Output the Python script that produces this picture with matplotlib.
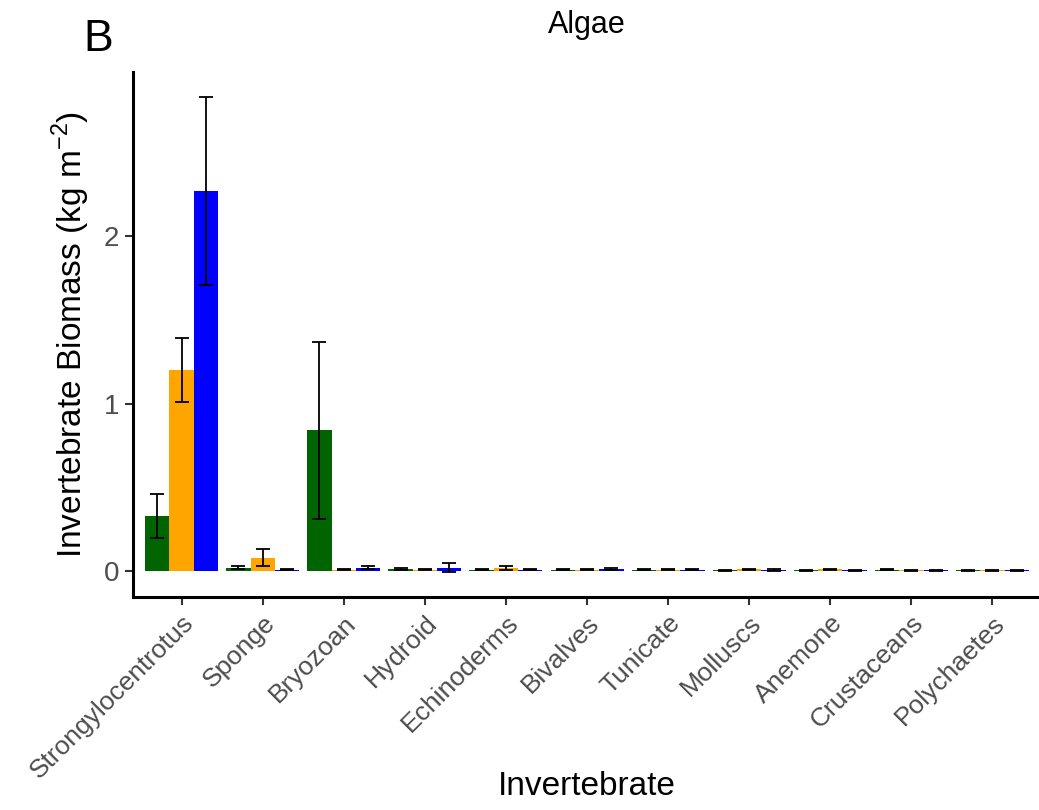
import matplotlib.pyplot as plt
import matplotlib.transforms as mtransforms
import numpy as np

plt.rcParams['font.family'] = ['Liberation Sans', 'DejaVu Sans']
plt.rcParams['mathtext.fontset'] = 'custom'
plt.rcParams['mathtext.rm'] = 'Liberation Sans'

invertebrates = ['Strongylocentrotus', 'Sponge', 'Bryozoan', 'Hydroid', 'Echinoderms',
                 'Bivalves', 'Tunicate', 'Molluscs', 'Anemone', 'Crustaceans', 'Polychaetes']

# three groups (green, orange, blue)
green_mean = [0.33, 0.02, 0.84, 0.012, 0.008, 0.008, 0.008, 0.004, 0.004, 0.008, 0.004]
green_err = [0.13, 0.01, 0.53, 0.006, 0.004, 0.003, 0.003, 0.002, 0.002, 0.004, 0.002]
orange_mean = [1.20, 0.08, 0.008, 0.008, 0.02, 0.008, 0.008, 0.01, 0.01, 0.004, 0.004]
orange_err = [0.19, 0.05, 0.003, 0.003, 0.012, 0.003, 0.003, 0.005, 0.005, 0.002, 0.002]
blue_mean = [2.27, 0.008, 0.02, 0.02, 0.008, 0.012, 0.008, 0.008, 0.004, 0.004, 0.004]
blue_err = [0.56, 0.003, 0.01, 0.025, 0.003, 0.006, 0.003, 0.005, 0.002, 0.002, 0.002]

colors = ['#006400', '#FFA500', '#0000FF']

fig = plt.figure(figsize=(10.39, 8.10), dpi=100)
ax = fig.add_axes([0.128, 0.263, 0.874, 0.648])

x = np.arange(len(invertebrates))
w = 0.3
series = [(green_mean, green_err), (orange_mean, orange_err), (blue_mean, blue_err)]
for i, (m, e) in enumerate(series):
    ax.bar(x + (i - 1) * w, m, width=w, color=colors[i], edgecolor='none')
    ax.errorbar(x + (i - 1) * w, m, yerr=e, fmt='none', ecolor='black',
                elinewidth=1.3, capsize=5, capthick=1.3)

ax.set_xlim(-0.6, len(invertebrates) - 0.4)
ax.set_ylim(-0.155, 2.98)
ax.set_yticks([0, 1, 2])
ax.set_xticks(x)
ax.set_xticklabels(invertebrates, rotation=45, ha='right', va='top',
                   rotation_mode='anchor', fontsize=19, color='#4d4d4d')
shift = mtransforms.ScaledTranslation(12 / 100, -6 / 100, fig.dpi_scale_trans)
for lab in ax.get_xticklabels():
    lab.set_transform(lab.get_transform() + shift)
ax.tick_params(axis='y', labelsize=20, labelcolor='#4d4d4d')
ax.tick_params(length=6, width=1.5, color='#333333', pad=4)

for s in ['top', 'right']:
    ax.spines[s].set_visible(False)
for s in ['left', 'bottom']:
    ax.spines[s].set_linewidth(2.2)

ax.set_ylabel('Invertebrate Biomass (kg m$^{\\mathregular{-2}}$)', fontsize=24, labelpad=8)
ax.set_xlabel('Invertebrate', fontsize=24)
ax.xaxis.set_label_coords(0.5, -0.362)
ax.xaxis.label.set_va('center')
ax.set_title('Algae', fontsize=22, pad=28)
fig.text(0.08, 0.951, 'B', fontsize=32, va='center', ha='left')

fig.savefig('out.png', dpi=100)
